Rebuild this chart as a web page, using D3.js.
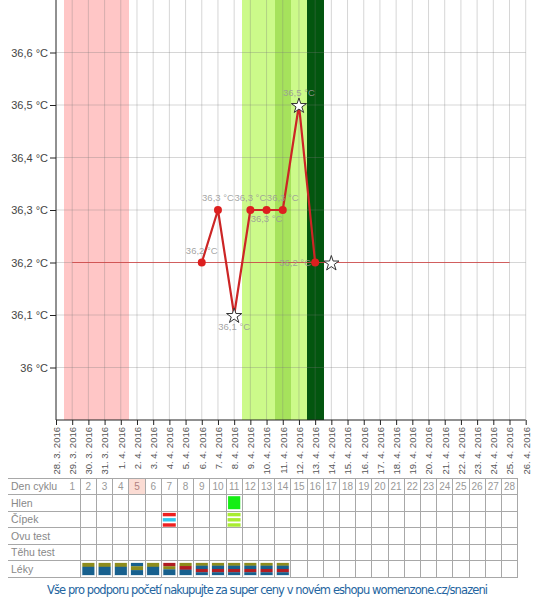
<!DOCTYPE html>
<html><head><meta charset="utf-8">
<script src="https://cdn.jsdelivr.net/npm/d3@7"></script>
<style>
body{margin:0;background:#fff;}
svg{display:block;font-family:"Liberation Sans",Arial,sans-serif;}
</style></head>
<body><svg id="c" width="533" height="600"></svg>
<script>
const dates = ["28.3.2016","29.3.2016","30.3.2016","31.3.2016","1.4.2016","2.4.2016","3.4.2016","4.4.2016","5.4.2016","6.4.2016","7.4.2016","8.4.2016","9.4.2016","10.4.2016","11.4.2016","12.4.2016","13.4.2016","14.4.2016","15.4.2016","16.4.2016","17.4.2016","18.4.2016","19.4.2016","20.4.2016","21.4.2016","22.4.2016","23.4.2016","24.4.2016","25.4.2016","26.4.2016"];
const tickLabels = ["28. 3. 2016","29. 3. 2016","30. 3. 2016","31. 3. 2016","1. 4. 2016","2. 4. 2016","3. 4. 2016","4. 4. 2016","5. 4. 2016","6. 4. 2016","7. 4. 2016","8. 4. 2016","9. 4. 2016","10. 4. 2016","11. 4. 2016","12. 4. 2016","13. 4. 2016","14. 4. 2016","15. 4. 2016","16. 4. 2016","17. 4. 2016","18. 4. 2016","19. 4. 2016","20. 4. 2016","21. 4. 2016","22. 4. 2016","23. 4. 2016","24. 4. 2016","25. 4. 2016","26. 4. 2016"];
const yTicks = [36.0,36.1,36.2,36.3,36.4,36.5,36.6];
const yTickLabels = ["36 °C","36,1 °C","36,2 °C","36,3 °C","36,4 °C","36,5 °C","36,6 °C"];

const tempDates = ["6.4.2016","7.4.2016","8.4.2016","9.4.2016","10.4.2016","11.4.2016","12.4.2016","13.4.2016"];
const temps = [36.2,36.3,36.1,36.3,36.3,36.3,36.5,36.2];
const markers = ["circle","circle","star","circle","circle","circle","star","circle"];
const tempLabels = ["36,2 °C","36,3 °C","36,1 °C","36,3 °C","36,3 °C","36,3 °C","36,5 °C","36,2 °C"];
const labelPos = ["above","above","below","above","below","above","above","left"];

const extraStarDate = "14.4.2016";
const extraStarTemp = 36.2;
const coverTemp = 36.2;
const coverFrom = "29.3.2016", coverTo = "25.4.2016";

const periodDays = ["29.3.2016","30.3.2016","31.3.2016","1.4.2016"];
const fertileDays = ["9.4.2016","10.4.2016","12.4.2016"];
const peakDays = ["11.4.2016"];
const ovulationDays = ["13.4.2016"];

const cycleDays = d3.range(1,29);
const todayCycleDay = 5;
const rowLabels = ["Den cyklu","Hlen","Čípek","Ovu test","Těhu test","Léky"];
const hlenDays = [11];
const cipekDays = [7,11];
const cipekStripes = [["#ee2020","#30c8ee","#ee2020"],["#a8ec30","#a8ec30","#a8ec30"]];
const lekyDays = [2,3,4,5,6,7,8,9,10,11,12,13,14];
const lekyStripes = [
 [["o",1],["b",2]],[["o",1],["b",2]],[["o",1],["b",2]],
 [["b",1],["o",1],["b",1.4]],
 [["o",1],["b",2]],
 [["r",1],["o",0.8],["b",1.6]],
 [["o",1],["r",1],["b",1.6]],
 [["o",1],["b",1],["r",1],["b",1]],[["o",1],["b",1],["r",1],["b",1]],[["o",1],["b",1],["r",1],["b",1]],
 [["o",1],["b",1],["r",1],["b",1]],[["o",1],["b",1],["r",1],["b",1]],[["o",1],["b",1],["r",1],["b",1]]
];
const lekyColors = {o:"#8e8c1c", b:"#17608e", r:"#b01c22"};
const footerText = "Vše pro podporu početí nakupujte za super ceny v novém eshopu womenzone.cz/snazeni";

const svg = d3.select("#c");
const x = d3.scalePoint().domain(dates).range([56, 525.7]);
const step = x.step();
const y = d3.scaleLinear().domain([35.9, 36.7]).range([420, 0]);

// bands
const bands = svg.append("g").attr("shape-rendering","crispEdges");
function band(days, color){
  bands.selectAll(null).data(days).enter().append("rect")
    .attr("x", d => x(d) - step/2).attr("width", step + 0.3)
    .attr("y", 0).attr("height", 420).attr("fill", color);
}
band(periodDays, "#ffc6c6");
band(fertileDays, "#ccfa8a");
band(peakDays, "#a6e25c");
band(ovulationDays, "#03560f");

// grid
const grid = svg.append("g").attr("stroke","rgba(120,120,120,0.3)").attr("stroke-width",1);
grid.selectAll(null).data(dates.slice(1)).enter().append("line")
  .attr("x1", d => x(d)).attr("x2", d => x(d)).attr("y1", 0).attr("y2", 420);
grid.selectAll(null).data(yTicks).enter().append("line")
  .attr("x1", 56).attr("x2", 525.7).attr("y1", d => y(d)).attr("y2", d => y(d));

// coverline
svg.append("line").attr("x1", x(coverFrom)).attr("x2", x(coverTo))
  .attr("y1", y(coverTemp)).attr("y2", y(coverTemp))
  .attr("stroke","#d04040").attr("stroke-opacity",0.8).attr("stroke-width",1);

// axes
const yAxis = d3.axisLeft(y).tickValues(yTicks).tickFormat((d,i)=>yTickLabels[i]).tickSize(6).tickPadding(2);
const gy = svg.append("g").attr("transform","translate(56,0)").call(yAxis);
gy.select(".domain").attr("d","M0,0V420").attr("stroke","#222");
gy.selectAll(".tick line").attr("stroke","#222");
gy.selectAll("text").attr("font-size",11).attr("fill","#444").attr("font-family","Liberation Sans, Arial, sans-serif");

const xAxis = d3.axisBottom(x).tickFormat((d,i)=>tickLabels[i]).tickSize(5).tickPadding(2);
const gx = svg.append("g").attr("transform","translate(0,420)").call(xAxis);
gx.select(".domain").attr("d","M56,0H525.7").attr("stroke","#222");
gx.selectAll(".tick line").attr("stroke","#222");
gx.selectAll("text").attr("font-size",9.5).attr("fill","#555")
  .attr("font-family","Liberation Sans, Arial, sans-serif")
  .attr("transform","rotate(-90)").attr("text-anchor","end")
  .attr("x",-7).attr("y",0).attr("dy","0.35em");

// temp line
const pts = tempDates.map((d,i)=>({d, t:temps[i], m:markers[i], l:tempLabels[i], p:labelPos[i]}));
svg.append("path").datum(pts)
  .attr("d", d3.line().x(p=>x(p.d)).y(p=>y(p.t)))
  .attr("fill","none").attr("stroke","#cc2525").attr("stroke-width",2.2).attr("stroke-linejoin","round");

// labels
svg.append("g").selectAll("text").data(pts).enter().append("text")
  .attr("x", p => p.p==="left" ? x(p.d)-20 : x(p.d))
  .attr("y", p => p.p==="above" ? y(p.t)-12 : p.p==="below" ? y(p.t)+(p.d==="10.4.2016"?9:12) : y(p.t))
  .attr("dy","0.35em").attr("text-anchor","middle")
  .attr("font-size",9.5).attr("fill","#999").attr("fill-opacity",0.9)
  .text(p=>p.l);

// markers
const mk = svg.append("g");
mk.selectAll(null).data(pts.filter(p=>p.m==="circle")).enter().append("circle")
  .attr("cx",p=>x(p.d)).attr("cy",p=>y(p.t)).attr("r",4).attr("fill","#dd1f1f");
const star = d3.symbol().type(d3.symbolStar).size(72);
mk.selectAll(null).data(pts.filter(p=>p.m==="star").concat([{d:extraStarDate,t:extraStarTemp}])).enter().append("path")
  .attr("d", star).attr("transform", p=>`translate(${x(p.d)},${y(p.t)+1})`)
  .attr("fill","#fff").attr("stroke","#333").attr("stroke-width",1);

// table
const tTop = 478.3, rowH = 16.5, tLeft = 8;
const colX = k => x(dates[k]) - step/2;
const tRight = colX(28) + step;
const tbl = svg.append("g");
tbl.append("rect").attr("x", colX(todayCycleDay)).attr("y", tTop).attr("width", step).attr("height", rowH).attr("fill","#fbdcd4");
const lines = tbl.append("g").attr("stroke","#a8a8a8").attr("stroke-width",1).attr("shape-rendering","crispEdges");
lines.selectAll(null).data(d3.range(rowLabels.length+1)).enter().append("line")
  .attr("x1", tLeft).attr("x2", tRight).attr("y1", i=>tTop+i*rowH).attr("y2", i=>tTop+i*rowH);
lines.selectAll(null).data(cycleDays.slice(1).concat([29])).enter().append("line")
  .attr("x1", k=>colX(k)).attr("x2", k=>colX(k)).attr("y1", tTop).attr("y2", tTop+rowLabels.length*rowH);
tbl.selectAll(null).data(rowLabels).enter().append("text")
  .attr("x", tLeft+3).attr("y", (d,i)=>tTop+i*rowH+rowH/2).attr("dy","0.35em")
  .attr("font-size",10.5).attr("fill","#888").text(d=>d);
tbl.selectAll(null).data(cycleDays).enter().append("text")
  .attr("x", k=>colX(k)+step/2).attr("y", tTop+rowH/2).attr("dy","0.35em").attr("text-anchor","middle")
  .attr("font-size",10).attr("fill", k=> k===todayCycleDay ? "#b08080" : "#999").text(k=>k);
// Hlen
tbl.selectAll(null).data(hlenDays).enter().append("rect")
  .attr("x", k=>colX(k)+2).attr("y", tTop+rowH+1.4).attr("width", step-4).attr("height", rowH-3.5).attr("fill","#14ee14");
// Čípek
cipekDays.forEach((k,i)=>{
  cipekStripes[i].forEach((c,j)=>{
    tbl.append("rect").attr("x", colX(k)+1.5).attr("y", tTop+2*rowH+1.6+j*5.2).attr("width", step-3.2).attr("height",3.4).attr("fill",c);
  });
});
// Léky
lekyDays.forEach((k,i)=>{
  const s = lekyStripes[i];
  const total = d3.sum(s, v=>v[1]);
  const bx = colX(k)+1.6, by = tTop+5*rowH+1.6, bw = step-3.2, bh = rowH-3.4;
  let cy = by;
  s.forEach(v=>{
    const h = bh*v[1]/total;
    tbl.append("rect").attr("x",bx).attr("y",cy).attr("width",bw).attr("height",h+0.2).attr("fill",lekyColors[v[0]]);
    cy += h;
  });
  tbl.append("rect").attr("x",bx).attr("y",by).attr("width",bw).attr("height",bh).attr("fill","none").attr("stroke","#fff").attr("stroke-width",0.8);
});

// footer
svg.append("text").attr("x",47).attr("y",594)
  .attr("font-family","DejaVu Sans, Verdana, sans-serif").attr("font-size",11.5)
  .attr("fill","#2465a0").attr("textLength",441).attr("lengthAdjust","spacing")
  .text(footerText);
</script></body></html>
